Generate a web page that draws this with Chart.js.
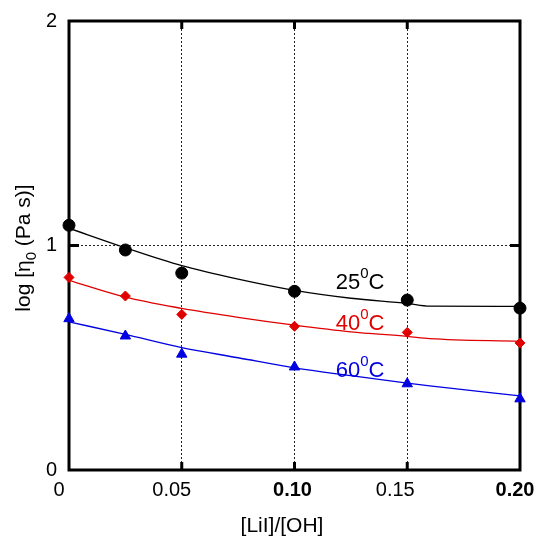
<!DOCTYPE html>
<html>
<head>
<meta charset="utf-8">
<script src="https://cdn.jsdelivr.net/npm/chart.js@4"></script>
<style>
  html, body { margin: 0; padding: 0; background: #fff; }
  #wrap { width: 541px; height: 539px; }
</style>
</head>
<body>
<div id="wrap"><canvas id="chart" width="541" height="539"></canvas></div>
<script>
'use strict';

// measured points
var xVals = [0, 0.025, 0.05, 0.10, 0.15, 0.20];
var t25 = [1.09, 0.98, 0.877, 0.796, 0.757, 0.721];
var t40 = [0.858, 0.775, 0.693, 0.64, 0.613, 0.566];
var t60 = [0.674, 0.597, 0.516, 0.459, 0.384, 0.317];

// fitted curves
var fitX = [0, 0.025, 0.05, 0.075, 0.10, 0.125, 0.15, 0.16, 0.20];
var fit25 = [1.077, 0.99, 0.91, 0.85, 0.80, 0.765, 0.742, 0.73, 0.729];
var fit40 = [0.845, 0.77, 0.72, 0.68, 0.645, 0.615, 0.595, 0.585, 0.573];
var fit60 = [0.66, 0.604, 0.545, 0.5, 0.455, 0.42, 0.387, 0.375, 0.33];

// ticks
var xTicks = [0, 0.05, 0.10, 0.15, 0.20];
var xTickLabels = ['0', '0.05', '0.10', '0.15', '0.20'];
var yTicks = [0, 1, 2];

var FONT = 'Liberation Sans, Arial, sans-serif';

function pts(xs, ys) {
  return xs.map(function(x, i) { return {x: x, y: ys[i]}; });
}

function fitSet(ys, color) {
  return {
    data: pts(fitX, ys),
    borderColor: color,
    borderWidth: 1.3,
    pointRadius: 0,
    cubicInterpolationMode: 'monotone',
    fill: false
  };
}

function pointSet(ys, color, style, r) {
  return {
    data: pts(xVals, ys),
    showLine: false,
    clip: false,
    pointStyle: style,
    pointRadius: r,
    pointBackgroundColor: color,
    pointBorderColor: color,
    pointBorderWidth: 1
  };
}

//枠線・目盛・文字の描画
var decor = {
  id: 'decor',
  beforeDatasetsDraw: function(chart) {
    var c = chart.ctx, a = chart.chartArea;
    var xs = chart.scales.x, ys = chart.scales.y;
    c.save();
    c.strokeStyle = '#000';
    c.lineWidth = 3;
    c.strokeRect(a.left, a.top, a.right - a.left, a.bottom - a.top);
    // inward tick marks
    c.beginPath();
    [0.05, 0.10, 0.15].forEach(function(v) {
      var px = xs.getPixelForValue(v);
      c.moveTo(px, a.top); c.lineTo(px, a.top + 8);
      c.moveTo(px, a.bottom); c.lineTo(px, a.bottom - 8);
    });
    var py = ys.getPixelForValue(1);
    c.moveTo(a.left, py); c.lineTo(a.left + 10, py);
    c.moveTo(a.right, py); c.lineTo(a.right - 10, py);
    c.stroke();
    c.restore();
  },
  afterDraw: function(chart) {
    var c = chart.ctx;
    var xs = chart.scales.x, ys = chart.scales.y;
    c.save();

    // x tick labels (slightly shifted left like the original)
    var nudge = [-10, -10, -2, -12, -5];
    c.fillStyle = '#000';
    c.textAlign = 'center';
    c.textBaseline = 'middle';
    xTicks.forEach(function(v, i) {
      var bold = (i === 2 || i === 4);
      c.font = (bold ? 'bold ' : '') + '20px ' + FONT;
      c.fillText(xTickLabels[i], xs.getPixelForValue(v) + nudge[i], 490);
    });

    // series labels
    function label(txt, color, xv, yv) {
      var px = xs.getPixelForValue(xv), pyy = ys.getPixelForValue(yv);
      c.fillStyle = color;
      c.textBaseline = 'alphabetic';
      c.textAlign = 'left';
      c.font = '22px ' + FONT;
      c.fillText(txt, px, pyy);
      var w = c.measureText(txt).width;
      c.font = '15px ' + FONT;
      c.fillText('0', px + w, pyy - 11);
      var w2 = c.measureText('0').width;
      c.font = '22px ' + FONT;
      c.fillText('C', px + w + w2, pyy);
    }
    label('25', '#000', 0.1183, 0.8076);
    label('40', '#e00000', 0.1183, 0.622);
    label('60', '#0000e0', 0.1183, 0.415);

    // x axis title
    c.fillStyle = '#000';
    c.font = '21px ' + FONT;
    c.textAlign = 'center';
    c.textBaseline = 'middle';
    c.fillText('[LiI]/[OH]', 282, 526);

    // y axis title
    c.translate(30, 248);
    c.rotate(-Math.PI / 2);
    c.textBaseline = 'alphabetic';
    c.textAlign = 'left';
    c.font = '21px ' + FONT;
    var p1 = 'log [\u03b7', p2 = '0', p3 = ' (Pa s)]';
    var w1 = c.measureText(p1).width, w3 = c.measureText(p3).width;
    c.font = '15px ' + FONT;
    var ws = c.measureText(p2).width;
    var x0 = -(w1 + ws + w3) / 2;
    c.font = '21px ' + FONT;
    c.fillText(p1, x0, 0);
    c.font = '15px ' + FONT;
    c.fillText(p2, x0 + w1, 6);
    c.font = '21px ' + FONT;
    c.fillText(p3, x0 + w1 + ws, 0);
    c.restore();
  }
};

var ctx = document.getElementById('chart');
var myChart = new Chart(ctx, {
  type: 'line',
  data: {
    datasets: [
      fitSet(fit25, '#000'),
      fitSet(fit40, '#e00000'),
      fitSet(fit60, '#0000e0'),
      pointSet(t25, '#000', 'circle', 6),
      pointSet(t40, '#e00000', 'rectRot', 5),
      pointSet(t60, '#0000e0', 'triangle', 6)
    ]
  },
  options: {
    responsive: false,
    animation: false,
    layout: { padding: { top: 21, right: 21, left: 0, bottom: 0 } },
    plugins: { legend: { display: false }, tooltip: { enabled: false } },
    scales: {
      x: {
        type: 'linear',
        min: 0,
        max: 0.20,
        afterFit: function(s) { s.height = 69; s.paddingLeft = 0; s.paddingRight = 0; },
        afterBuildTicks: function(s) { s.ticks = xTicks.map(function(v) { return {value: v}; }); },
        border: { display: false, dash: [2, 2] },
        grid: {
          color: function(c) { return (c.tick && (c.tick.value === 0 || c.tick.value === 0.2)) ? 'rgba(0,0,0,0)' : '#222'; },
          lineWidth: 1,
          drawTicks: false
        },
        ticks: {
          display: false
        }
      },
      y: {
        min: 0,
        max: 2,
        afterFit: function(s) { s.width = 69; s.paddingTop = 0; s.paddingBottom = 0; },
        afterBuildTicks: function(s) { s.ticks = yTicks.map(function(v) { return {value: v}; }); },
        border: { display: false, dash: [2, 2] },
        grid: {
          color: function(c) { return (c.tick && c.tick.value === 1) ? '#222' : 'rgba(0,0,0,0)'; },
          lineWidth: 1,
          drawTicks: false
        },
        ticks: {
          padding: 12,
          color: '#000',
          font: { family: FONT, size: 20 }
        }
      }
    }
  },
  plugins: [decor]
});
</script>
</body>
</html>
